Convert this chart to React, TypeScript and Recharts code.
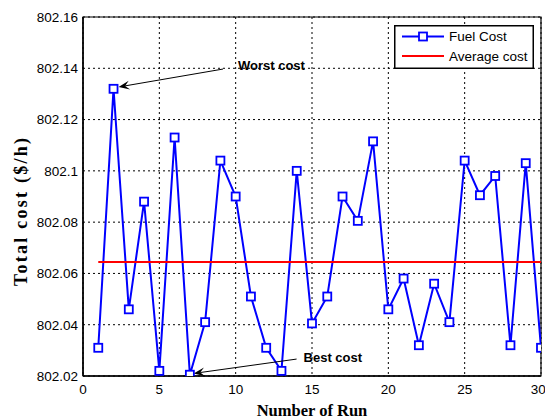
import React from 'react';
import {
  LineChart,
  Line,
  XAxis,
  YAxis,
  CartesianGrid,
  ReferenceArea,
  ReferenceLine,
  Legend,
  Customized
} from 'recharts';

// Fuel cost of each run ($/h)
const runs = [
  1, 2, 3, 4, 5, 6, 7, 8, 9, 10, 11, 12, 13, 14, 15,
  16, 17, 18, 19, 20, 21, 22, 23, 24, 25, 26, 27, 28, 29, 30
];
const fuelCost = [
  802.031, 802.132, 802.046, 802.088, 802.022, 802.113, 802.0205, 802.041, 802.104, 802.09,
  802.051, 802.031, 802.022, 802.1, 802.0405, 802.051, 802.09, 802.0805, 802.1115, 802.046,
  802.058, 802.032, 802.056, 802.041, 802.104, 802.0905, 802.098, 802.032, 802.103, 802.031
];
const averageCost = 802.0645;
const avgRuns = [1, 30];

const xTicks = [0, 5, 10, 15, 20, 25, 30];
const yTicks = [802.02, 802.04, 802.06, 802.08, 802.1, 802.12, 802.14, 802.16];

// annotation arrows: tail -> head, in data units
const worstArrow = [{ x: 9.17, y: 802.1397 }, { x: 2.33, y: 802.1327 }];
const bestArrow = [{ x: 13.99, y: 802.0266 }, { x: 7.25, y: 802.021 }];

const fuelData = runs.map((run, i) => ({ run, cost: fuelCost[i] }));
const avgData = avgRuns.map((run) => ({ run, avg: averageCost }));

const SANS = '"Liberation Sans", Arial, sans-serif';
const SERIF = '"Liberation Serif", "Times New Roman", serif';

const SquareDot = (props: any) => {
  const { cx, cy } = props;
  if (cx == null || cy == null) return null;
  return (
    <rect x={cx - 4} y={cy - 4} width={8} height={8} fill="#fff" stroke="#0000ff" strokeWidth={1.8} />
  );
};

const arrowShape = (text: string, dx: number, dy: number) => (props: any) => {
  const { x1, y1, x2, y2 } = props;
  const len = Math.hypot(x2 - x1, y2 - y1) || 1;
  const ux = (x2 - x1) / len;
  const uy = (y2 - y1) / len;
  const nx = -uy;
  const ny = ux;
  const L = 11;
  const W = 4.5;
  const head = [
    [x2, y2],
    [x2 - L * ux + W * nx, y2 - L * uy + W * ny],
    [x2 - 0.6 * L * ux, y2 - 0.6 * L * uy],
    [x2 - L * ux - W * nx, y2 - L * uy - W * ny]
  ]
    .map((p) => p.join(','))
    .join(' ');
  return (
    <g>
      <line x1={x1} y1={y1} x2={x2 - 0.6 * L * ux} y2={y2 - 0.6 * L * uy} stroke="#000" strokeWidth={1} />
      <polygon points={head} fill="#000" />
      <text x={x1 + dx} y={y1 + dy} fontFamily={SANS} fontSize={13} fontWeight="bold" fill="#000">
        {text}
      </text>
    </g>
  );
};

const LegendBox = () => (
  <svg width={140} height={44} style={{ display: 'block' }}>
    <rect x={0.75} y={0.75} width={138.5} height={42.5} fill="#fff" stroke="#000" strokeWidth={1.5} />
    <line x1={8} y1={11.5} x2={50} y2={11.5} stroke="#0000ff" strokeWidth={2} />
    <rect x={25} y={7.5} width={8} height={8} fill="#fff" stroke="#0000ff" strokeWidth={1.8} />
    <text x={55} y={15.8} fontFamily={SANS} fontSize={13.5} fill="#000">Fuel Cost</text>
    <line x1={8} y1={31} x2={50} y2={31} stroke="#ff0000" strokeWidth={2} />
    <text x={55} y={36} fontFamily={SANS} fontSize={13.5} fill="#000">Average cost</text>
  </svg>
);

const AxisTitles = () => (
  <g>
    <text x={312} y={416} textAnchor="middle" fontFamily={SERIF} fontSize={16.5} fontWeight="bold" fill="#000">
      Number of Run
    </text>
    <text
      transform="translate(27,212) rotate(-90)"
      textAnchor="middle"
      fontFamily={SERIF}
      fontSize={18}
      fontWeight="bold"
      fill="#000"
      textLength={148}
      lengthAdjust="spacing"
    >
      Total cost ($/h)
    </text>
  </g>
);

const fmt = (v: number) => String(Number(v.toFixed(2)));

export default function App() {
  return (
    <div style={{ position: 'absolute', left: 0, top: 0, background: '#fff' }}>
      <LineChart
        width={545}
        height={419}
        data={fuelData}
        margin={{ top: 17, right: 4, bottom: 13, left: 23 }}
      >
        <CartesianGrid stroke="#000" strokeDasharray="2 3" strokeWidth={1} />
        <XAxis
          type="number"
          dataKey="run"
          domain={[0, 30]}
          ticks={xTicks}
          height={30}
          tickSize={0}
          tickMargin={8}
          tick={{ fontFamily: SANS, fontSize: 13.5, fill: '#000' }}
          axisLine={{ stroke: '#000', strokeWidth: 1.5 }}
          allowDataOverflow
        />
        <YAxis
          type="number"
          domain={[802.02, 802.16]}
          ticks={yTicks}
          width={60}
          tickSize={0}
          tickMargin={5}
          tickFormatter={fmt}
          tick={{ fontFamily: SANS, fontSize: 13.5, fill: '#000' }}
          axisLine={{ stroke: '#000', strokeWidth: 1.5 }}
          allowDataOverflow
        />
        <ReferenceArea
          x1={0}
          x2={30}
          y1={802.02}
          y2={802.16}
          fill="none"
          fillOpacity={0}
          stroke="#000"
          strokeWidth={1.2}
        />
        <Line
          dataKey="cost"
          stroke="#0000ff"
          strokeWidth={2}
          dot={<SquareDot />}
          activeDot={false}
          isAnimationActive={false}
        />
        <Line
          data={avgData}
          dataKey="avg"
          stroke="#ff0000"
          strokeWidth={2}
          dot={false}
          activeDot={false}
          isAnimationActive={false}
        />
        <ReferenceLine segment={worstArrow} shape={arrowShape('Worst cost', 15, 0.5)} />
        <ReferenceLine segment={bestArrow} shape={arrowShape('Best cost', 7, 3)} />
        <Legend
          layout="vertical"
          align="center"
          verticalAlign="middle"
          wrapperStyle={{ left: 394, top: 25, width: 140, height: 44 }}
          content={() => <LegendBox />}
        />
        <Customized component={AxisTitles} />
      </LineChart>
    </div>
  );
}
